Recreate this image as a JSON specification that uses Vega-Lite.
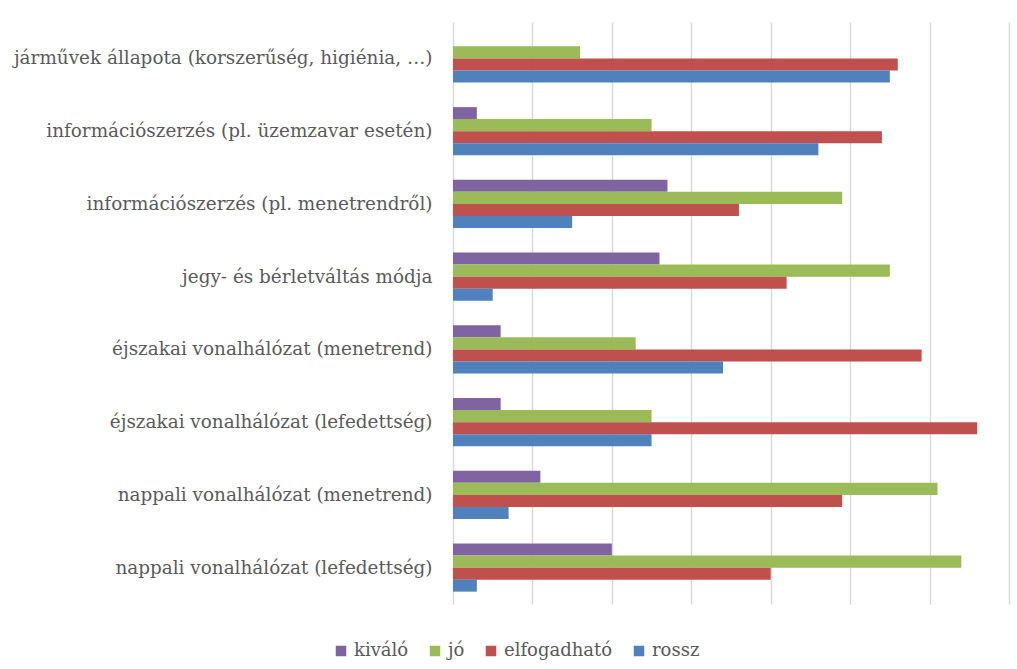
{
  "$schema": "https://vega.github.io/schema/vega-lite/v6.json",
  "width": 556,
  "height": 582,
  "autosize": {"type": "none"},
  "padding": {"left": 453, "top": 22, "right": 8, "bottom": 65},
  "background": "white",
  "data": {
    "values": [
      {"cat": "járművek állapota (korszerűség, higiénia, …)", "s": "kiváló", "v": 0},
      {"cat": "járművek állapota (korszerűség, higiénia, …)", "s": "jó", "v": 16},
      {"cat": "járművek állapota (korszerűség, higiénia, …)", "s": "elfogadható", "v": 56},
      {"cat": "járművek állapota (korszerűség, higiénia, …)", "s": "rossz", "v": 55},
      {"cat": "információszerzés (pl. üzemzavar esetén)", "s": "kiváló", "v": 3},
      {"cat": "információszerzés (pl. üzemzavar esetén)", "s": "jó", "v": 25},
      {"cat": "információszerzés (pl. üzemzavar esetén)", "s": "elfogadható", "v": 54},
      {"cat": "információszerzés (pl. üzemzavar esetén)", "s": "rossz", "v": 46},
      {"cat": "információszerzés (pl. menetrendről)", "s": "kiváló", "v": 27},
      {"cat": "információszerzés (pl. menetrendről)", "s": "jó", "v": 49},
      {"cat": "információszerzés (pl. menetrendről)", "s": "elfogadható", "v": 36},
      {"cat": "információszerzés (pl. menetrendről)", "s": "rossz", "v": 15},
      {"cat": "jegy- és bérletváltás módja", "s": "kiváló", "v": 26},
      {"cat": "jegy- és bérletváltás módja", "s": "jó", "v": 55},
      {"cat": "jegy- és bérletváltás módja", "s": "elfogadható", "v": 42},
      {"cat": "jegy- és bérletváltás módja", "s": "rossz", "v": 5},
      {"cat": "éjszakai vonalhálózat (menetrend)", "s": "kiváló", "v": 6},
      {"cat": "éjszakai vonalhálózat (menetrend)", "s": "jó", "v": 23},
      {"cat": "éjszakai vonalhálózat (menetrend)", "s": "elfogadható", "v": 59},
      {"cat": "éjszakai vonalhálózat (menetrend)", "s": "rossz", "v": 34},
      {"cat": "éjszakai vonalhálózat (lefedettség)", "s": "kiváló", "v": 6},
      {"cat": "éjszakai vonalhálózat (lefedettség)", "s": "jó", "v": 25},
      {"cat": "éjszakai vonalhálózat (lefedettség)", "s": "elfogadható", "v": 66},
      {"cat": "éjszakai vonalhálózat (lefedettség)", "s": "rossz", "v": 25},
      {"cat": "nappali vonalhálózat (menetrend)", "s": "kiváló", "v": 11},
      {"cat": "nappali vonalhálózat (menetrend)", "s": "jó", "v": 61},
      {"cat": "nappali vonalhálózat (menetrend)", "s": "elfogadható", "v": 49},
      {"cat": "nappali vonalhálózat (menetrend)", "s": "rossz", "v": 7},
      {"cat": "nappali vonalhálózat (lefedettség)", "s": "kiváló", "v": 20},
      {"cat": "nappali vonalhálózat (lefedettség)", "s": "jó", "v": 64},
      {"cat": "nappali vonalhálózat (lefedettség)", "s": "elfogadható", "v": 40},
      {"cat": "nappali vonalhálózat (lefedettség)", "s": "rossz", "v": 3}
    ]
  },
  "mark": {"type": "bar"},
  "encoding": {
    "y": {
      "field": "cat",
      "type": "nominal",
      "sort": null,
      "scale": {"paddingInner": 0.34, "paddingOuter": 0.17},
      "axis": {
        "title": null,
        "ticks": false,
        "domain": false,
        "labelFont": "DejaVu Serif",
        "labelFontSize": 18.4,
        "labelColor": "#595959",
        "labelPadding": 21,
        "labelLimit": 500
      }
    },
    "yOffset": {
      "field": "s",
      "type": "nominal",
      "sort": ["kiváló", "jó", "elfogadható", "rossz"],
      "scale": {"paddingInner": 0, "paddingOuter": 0}
    },
    "x": {
      "field": "v",
      "type": "quantitative",
      "scale": {"domain": [0, 70], "nice": false},
      "axis": {
        "title": null,
        "labels": false,
        "ticks": false,
        "domain": false,
        "values": [0, 10, 20, 30, 40, 50, 60, 70],
        "grid": true,
        "gridColor": "#D9D9D9",
        "gridWidth": 1.5
      }
    },
    "color": {
      "field": "s",
      "type": "nominal",
      "sort": ["kiváló", "jó", "elfogadható", "rossz"],
      "scale": {
        "domain": ["kiváló", "jó", "elfogadható", "rossz"],
        "range": ["#8064A2", "#9BBB59", "#C0504D", "#4F81BD"]
      },
      "legend": {
        "title": null,
        "orient": "none",
        "direction": "horizontal",
        "legendX": -121,
        "legendY": 620,
        "symbolType": "square",
        "symbolSize": 110,
        "symbolStrokeWidth": 0,
        "symbolOpacity": 1,
        "labelFont": "DejaVu Serif",
        "labelFontSize": 18,
        "labelColor": "#595959",
        "labelOffset": 4,
        "columnPadding": 17
      }
    }
  },
  "config": {
    "view": {"stroke": null}
  }
}
